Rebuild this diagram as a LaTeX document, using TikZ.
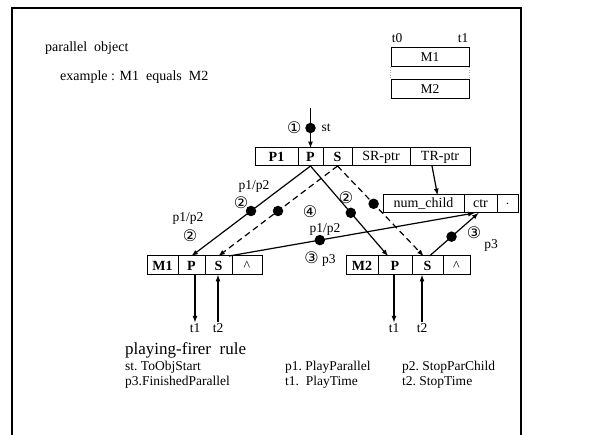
\documentclass[tikz,border=0pt]{standalone}
\usepackage{fontspec}
\setmainfont{Liberation Serif}
\newfontfamily\circfont{DejaVu Sans}
\usetikzlibrary{chains,positioning}

\newcommand{\cn}[1]{{\circfont\fontsize{16}{16}\selectfont #1}}

\begin{document}
\begin{tikzpicture}[x=1pt, y=-1pt, node distance=0pt, >=latex,
    cell/.style={draw, line width=1pt, on chain, minimum height=18pt, inner sep=0pt, outer sep=0pt, font=\fontsize{14}{14}\selectfont},
    tok/.style={circle, fill, inner sep=0pt, minimum size=10.5pt},
    lbl/.style={inner sep=1pt, font=\fontsize{13.5}{13.5}\selectfont},
    txt/.style={anchor=west, inner sep=0pt, font=\fontsize{14}{14}\selectfont},
    link/.style={line width=1.2pt},
    dashline/.style={dash pattern=on 6pt off 4pt}]
    \useasboundingbox (0,0) rectangle (610,435);
    \draw[line width=1.2pt] (12,435) -- (12,8) -- (521,8) -- (521,435);

    \node[txt] (title) at (45,48) {parallel\ \ object};
    \node[txt] (expl) at (60,77) {example : M1\ \ equals\ \ M2};

    % time line
    \node[lbl] (t0) at (397,38) {t0};
    \node[lbl] (t1) at (463,38) {t1};
    \node[draw, line width=1pt, minimum width=78pt, minimum height=19pt, font=\fontsize{13.5}{13.5}\selectfont] (tm1) at (430,57.5) {M1};
    \node[draw, line width=1pt, minimum width=78pt, minimum height=19pt, font=\fontsize{13.5}{13.5}\selectfont] (tm2) at (430,89) {M2};
    \draw[dotted, gray!60, thin] (tm1.south west) -- (tm2.north west);
    \draw[dotted, gray!60, thin] (tm1.south east) -- (tm2.north east);

    % parallel object record
    \begin{scope}[start chain=top going right]
        \node[cell, minimum width=43pt, anchor=west] (tp1) at (255,157) {\textbf{P1}};
        \node[cell, minimum width=25pt] (tp) {\textbf{P}};
        \node[cell, minimum width=29pt] (ts) {\textbf{S}};
        \node[cell, minimum width=58pt] (tsr) {SR-ptr};
        \node[cell, minimum width=60pt] (ttr) {TR-ptr};
    \end{scope}
    \begin{scope}[start chain=cnt going right]
        \node[cell, minimum width=81pt, anchor=west] (nc) at (383,204) {num\_child};
        \node[cell, minimum width=33pt] (ctr) {ctr};
        \node[cell, minimum width=21pt] (nd) {$\cdot$};
    \end{scope}
    \begin{scope}[start chain=mone going right]
        \node[cell, minimum width=31pt, minimum height=19pt, anchor=west] (m1) at (147,265.5) {\textbf{M1}};
        \node[cell, minimum width=27pt, minimum height=19pt] (m1p) {\textbf{P}};
        \node[cell, minimum width=27pt, minimum height=19pt] (m1s) {\textbf{S}};
        \node[cell, minimum width=30pt, minimum height=19pt] (m1n) {\textasciicircum};
    \end{scope}
    \begin{scope}[start chain=mtwo going right]
        \node[cell, minimum width=32pt, minimum height=19pt, anchor=west] (m2) at (346,265.5) {\textbf{M2}};
        \node[cell, minimum width=34pt, minimum height=19pt] (m2p) {\textbf{P}};
        \node[cell, minimum width=31pt, minimum height=19pt] (m2s) {\textbf{S}};
        \node[cell, minimum width=27pt, minimum height=19pt] (m2n) {\textasciicircum};
    \end{scope}

    % start token
    \coordinate (in) at (310.5,108);
    \draw[link,->] (in) -- node[tok, pos=0.5] (dst) {} (tp.north);
    \node[left=3pt of dst, inner sep=0pt] (c1) {\cn{①}};
    \node[lbl, right=4pt of dst] (st) {st};

    % firing arcs
    \draw[link,->] (tp.south) -- node[tok, pos=0.5] (da) {} (m1p.north);
    \draw[link,->] (tp.south) -- node[tok, pos=0.52] (db) {} ([xshift=-7pt]m2p.north);
    \draw[link,->, dashline] (ts.south) -- node[tok, pos=0.5] (dc) {} (m1s.north);
    \draw[link,->, dashline] (ts.south) -- node[tok, pos=0.42] (dd) {} ([xshift=-4pt]m2s.north);
    \draw[link,->] ([xshift=-3pt]m1s.north east) -- node[tok, pos=0.37] (de) {} ([xshift=-6pt]ctr.south);
    \draw[link,->] ([xshift=2pt]m2s.north) -- node[tok, pos=0.45] (df) {} ([xshift=-2pt]ctr.south);
    \draw[link,->] ([xshift=-8pt]ttr.south) -- ([xshift=14pt]nc.north);

    % arc labels
    \node[lbl] (la) at (188,218) {p1/p2};
    \node (la2) at (190,236) {\cn{②}};
    \node[lbl] (lb) at (254,186) {p1/p2};
    \node (lb2) at (241,203) {\cn{②}};
    \node (lc) at (310,212) {\cn{④}};
    \node (ld) at (346,198) {\cn{②}};
    \node[lbl] (le) at (325,229) {p1/p2};
    \node[lbl] (le2) at (320,259) {\cn{③} p3};
    \node (lf) at (474,233) {\cn{③}};
    \node[lbl] (lf2) at (491,245) {p3};

    % time transitions
    \node[lbl] (t1a) at (195,328) {t1};
    \node[lbl] (t2a) at (218,328) {t2};
    \node[lbl] (t1b) at (394,328) {t1};
    \node[lbl] (t2b) at (422,328) {t2};
    \draw[link,->] (m1p.south -| t1a) -- (t1a.north);
    \draw[link,->] (t2a.north) -- (m1s.south -| t2a);
    \draw[link,->] (m2p.south -| t1b) -- (t1b.north);
    \draw[link,->] (t2b.north) -- (m2s.south -| t2b);

    % legend
    \node[txt, font=\fontsize{17}{17}\selectfont] (rule) at (125,350) {playing-firer\ \ rule};
    \node[txt, font=\fontsize{13.5}{13.5}\selectfont] (g1) at (125,367) {st.\ ToObjStart};
    \node[txt, font=\fontsize{13.5}{13.5}\selectfont] (g2) at (285,367) {p1.\ PlayParallel};
    \node[txt, font=\fontsize{13.5}{13.5}\selectfont] (g3) at (402,367) {p2.\ StopParChild};
    \node[txt, font=\fontsize{13.5}{13.5}\selectfont] (g4) at (125,382) {p3.FinishedParallel};
    \node[txt, font=\fontsize{13.5}{13.5}\selectfont] (g5) at (285,382) {t1.\ \ PlayTime};
    \node[txt, font=\fontsize{13.5}{13.5}\selectfont] (g6) at (402,382) {t2.\ StopTime};
\end{tikzpicture}
\end{document}
